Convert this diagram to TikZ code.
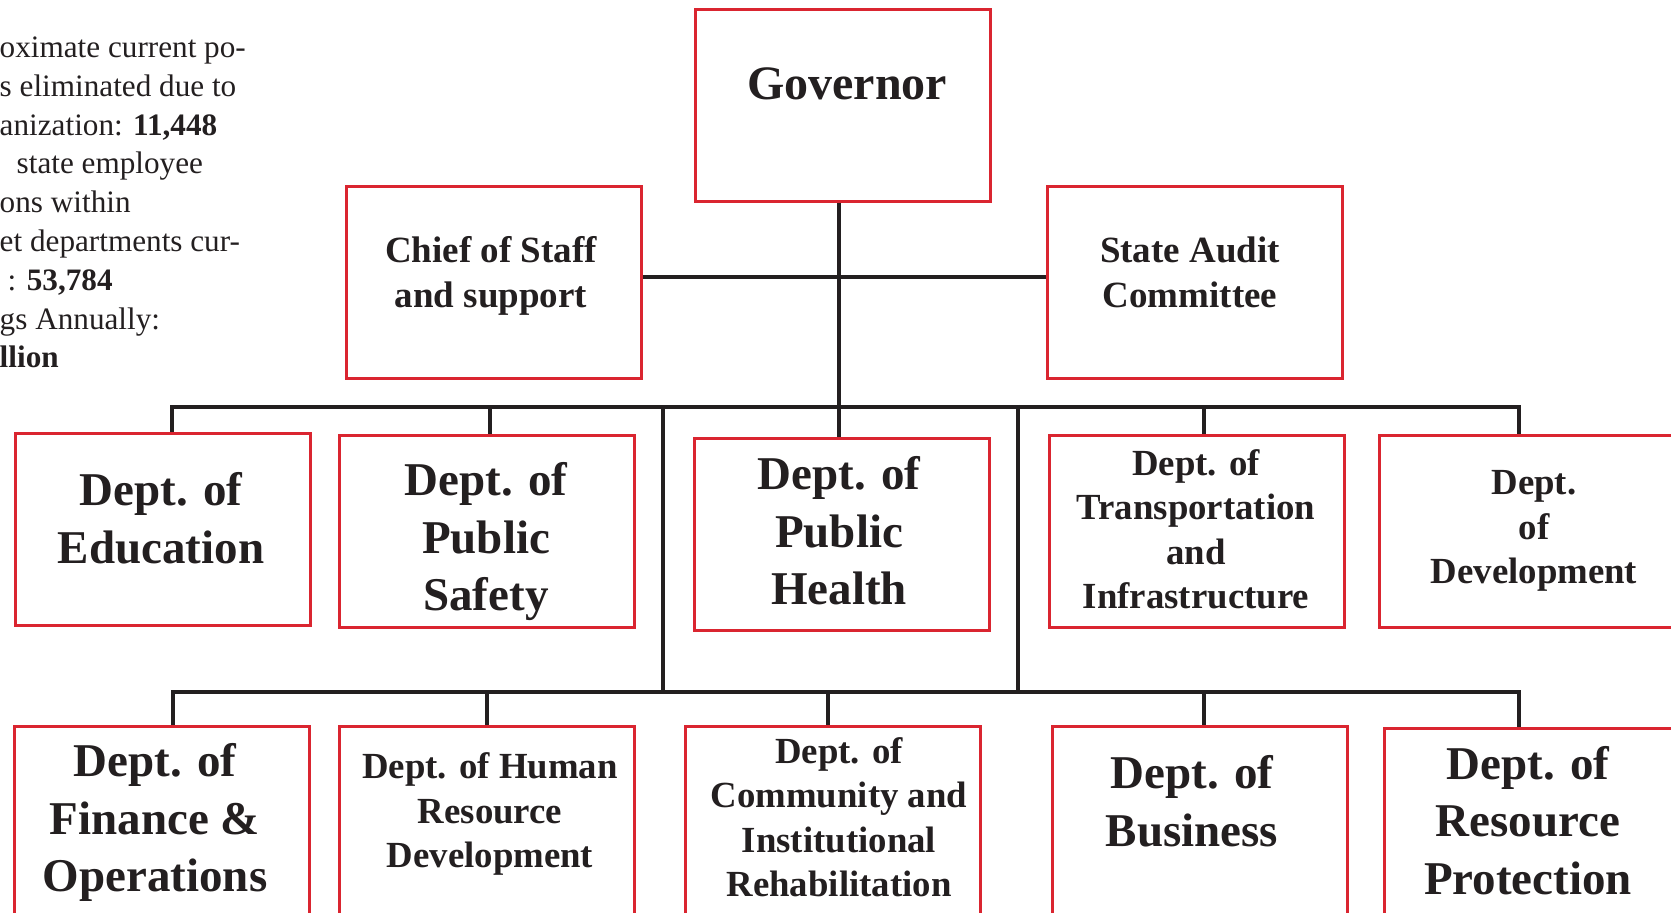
\documentclass[tikz,border=0pt]{standalone}
\usepackage{fontspec}
\setmainfont{Liberation Serif}
\definecolor{boxred}{RGB}{218,37,48}
\definecolor{ink}{RGB}{35,31,32}
\tikzset{every picture/.style={line width=0.75pt}}
\tikzset{
  deptbox/.style={draw=boxred, line width=1.4pt, anchor=north west, minimum width=147.5pt, minimum height=96pt, inner sep=0pt},
  wire/.style={draw=ink, line width=1.6pt},
  boxlabel/.style={anchor=base, align=center, inner sep=0pt, text=ink},
  govtype/.style={boxlabel, font=\fontsize{24pt}{29pt}\selectfont\bfseries},
  bigtype/.style={boxlabel, font=\fontsize{23.5pt}{28.75pt}\selectfont\bfseries},
  midtype/.style={boxlabel, font=\fontsize{18.4pt}{22.3pt}\selectfont\bfseries},
}

\begin{document}
\begin{tikzpicture}[x=0.5pt,y=0.5pt,yscale=-1,xscale=1]
\useasboundingbox (0,0) rectangle (1671,913);
\clip (0,0) rectangle (1671,913);

% side note (cut at the left edge), placed by its last line
\node[anchor=base west, align=left, inner sep=0pt, text=ink, font=\fontsize{15.6pt}{19.4pt}\selectfont] (note) at (-1,368)
  {oximate current po-\\ s eliminated due to\\ anization: \textbf{11,448}\\ \hspace*{8.5pt}state employee\\ ons within\\ et departments cur-\\ \hspace*{4pt}: \textbf{53,784}\\ gs Annually:\\ \textbf{llion}};

% top level
\node[deptbox] (gov) at (694,8) {};
\node[govtype] (govtxt) at (847,100) {Governor};
\node[deptbox] (chief) at (345,185) {};
\node[midtype, font=\fontsize{18.5pt}{22.5pt}\selectfont\bfseries] (chieftxt) at (491,308) {Chief of Staff\\and support};
\node[deptbox] (audit) at (1046,185) {};
\node[midtype, font=\fontsize{18.5pt}{22.5pt}\selectfont\bfseries] (audittxt) at (1190,308) {State Audit\\Committee};

% first row of departments (labels sit on their last line)
\node[deptbox] (edu) at (14,432) {};
\node[bigtype] (edutxt) at (161,563.5) {Dept. of\\Education};
\node[deptbox] (safety) at (338,434) {};
\node[bigtype] (safetytxt) at (486,611) {Dept. of\\Public\\Safety};
\node[deptbox] (health) at (693,437) {};
\node[bigtype] (healthtxt) at (839,605) {Dept. of\\Public\\Health};
\node[deptbox] (transport) at (1048,434) {};
\node[midtype] (transporttxt) at (1196,609) {Dept. of\\Transportation\\and\\Infrastructure};
\node[deptbox, minimum width=152pt] (develop) at (1378,434) {};
\node[midtype] (developtxt) at (1534,584) {Dept.\\of\\Development};

% second row of departments
\node[deptbox] (finance) at (13,725) {};
\node[bigtype] (financetxt) at (155,892) {Dept. of\\Finance \&\\Operations};
\node[deptbox] (hr) at (338,725) {};
\node[midtype] (hrtxt) at (490,868) {Dept. of Human\\Resource\\Development};
\node[deptbox] (community) at (684,725) {};
\node[midtype] (communitytxt) at (839,897) {Dept. of\\Community and\\Institutional\\Rehabilitation};
\node[deptbox] (business) at (1051,725) {};
\node[bigtype] (businesstxt) at (1192,846.5) {Dept. of\\Business};
\node[deptbox, minimum width=152pt] (resource) at (1383,727) {};
\node[bigtype] (resourcetxt) at (1528,894) {Dept. of\\Resource\\Protection};

% bus points
\coordinate (mid) at (839,277);
\coordinate (ta) at (172,407);
\coordinate (tb) at (490,407);
\coordinate (tc) at (1204,407);
\coordinate (td) at (1519,407);
\coordinate (dl) at (663,407);
\coordinate (dr) at (1018,405);
\coordinate (ba) at (173,692);
\coordinate (bb) at (487,692);
\coordinate (bc) at (828,692);
\coordinate (bd) at (1204,692);
\coordinate (be) at (1519,692);

% connectors
\draw[wire] (mid |- gov.south) -- (mid |- health.north);
\draw[wire] (chief.east |- mid) -- (audit.west |- mid);
\draw[wire] (ta |- edu.north) -- (ta) -- (td) -- (td |- develop.north);
\draw[wire] (tb) -- (tb |- safety.north);
\draw[wire] (tc) -- (tc |- transport.north);
\draw[wire] (dl) -- (dl |- ba);
\draw[wire] (dr) -- (dr |- ba);
\draw[wire] (ba |- finance.north) -- (ba) -- (be) -- (be |- resource.north);
\draw[wire] (bb) -- (bb |- hr.north);
\draw[wire] (bc) -- (bc |- community.north);
\draw[wire] (bd) -- (bd |- business.north);

\end{tikzpicture}
\end{document}
